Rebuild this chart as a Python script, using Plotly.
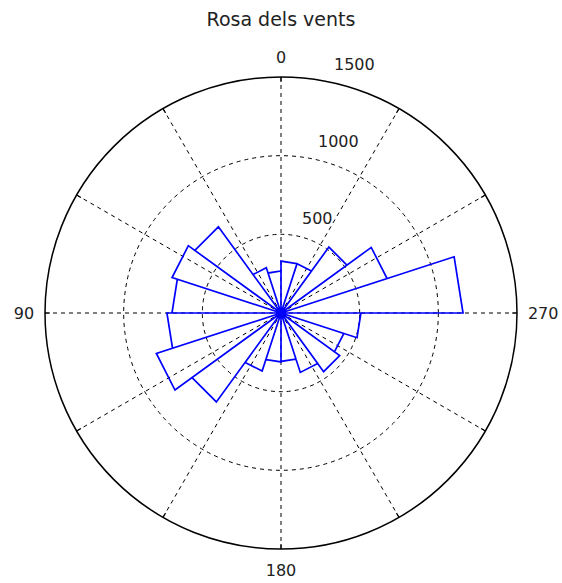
import math
import plotly.graph_objects as go

# Wind rose: counts per 18-degree direction bin (bin start angle, degrees)
bin_width = 18
bin_starts = list(range(0, 360, bin_width))
counts = [267, 302, 677, 728, 693, 725, 833, 699, 388, 311,
          308, 397, 461, 420, 508, 1157, 709, 518, 330, 330]

# Angular grid and labels
spoke_angles = list(range(0, 360, 30))
spoke_labels = [str(a) if a % 90 == 0 else "" for a in spoke_angles]

# Radial rings and their labels
ring_values = [500, 1000, 1500]
r_max = 1500

W, H = 562, 583
cx0, cx1 = 45, 517
cy0, cy1 = 77, 549
cx, cy = (cx0 + cx1) / 2, (cy0 + cy1) / 2
radius_px = (cx1 - cx0) / 2

# Build the rose outline: centre -> edge -> edge -> centre for every bin
rr, tt = [], []
for start, c in zip(bin_starts, counts):
    rr += [0, c, c, 0]
    tt += [start, start, start + bin_width, start + bin_width]

# Short solid tick marks on the inside of the outer circle at each spoke
tick_inner = r_max * (1 - 5 / radius_px)
tr, tth = [], []
for a in spoke_angles:
    tr += [tick_inner, r_max, None]
    tth += [a, a, None]

fig = go.Figure()
fig.add_trace(go.Scatterpolar(
    r=tr, theta=tth, mode="lines",
    line=dict(color="black", width=1.2),
    hoverinfo="skip", showlegend=False,
))
fig.add_trace(go.Scatterpolar(
    r=rr, theta=tt, mode="lines",
    line=dict(color="#0000ff", width=1.7),
    hoverinfo="skip", showlegend=False,
))

# Ring value labels just beyond each ring, near the top (compass-style angle)
label_pad = 110
label_theta = 348.5
phi = math.radians(90 + label_theta)
annotations = []
for v in ring_values:
    d = (v + label_pad) / r_max * radius_px
    px = cx + d * math.cos(phi)
    py = cy - d * math.sin(phi)
    annotations.append(dict(
        text=str(v), x=px / W, y=1 - py / H, xref="paper", yref="paper",
        xanchor="left", yanchor="middle", showarrow=False,
        font=dict(family="DejaVu Sans", size=16, color="#222222"),
    ))

fig.update_layout(
    width=W, height=H,
    margin=dict(l=0, r=0, t=0, b=0),
    paper_bgcolor="white",
    title=dict(text="Rosa dels vents", x=0.5, xref="paper", xanchor="center",
               y=1 - 19 / H, yref="paper", yanchor="middle",
               font=dict(family="DejaVu Sans", size=19, color="#222222")),
    annotations=annotations,
    polar=dict(
        domain=dict(x=[cx0 / W, cx1 / W], y=[1 - cy1 / H, 1 - cy0 / H]),
        bgcolor="white",
        angularaxis=dict(
            rotation=90, direction="counterclockwise",
            tickmode="array", tickvals=spoke_angles, ticktext=spoke_labels,
            showgrid=True, gridcolor="black", gridwidth=1, griddash="4px,4px",
            showline=True, linecolor="black", linewidth=1.5,
            ticks="outside", ticklen=7, tickcolor="rgba(0,0,0,0)",
            tickfont=dict(family="DejaVu Sans", size=16, color="#222222"),
        ),
        radialaxis=dict(
            range=[0, r_max],
            tickmode="array", tickvals=ring_values[:-1],
            showticklabels=False, ticks="",
            showgrid=True, gridcolor="black", gridwidth=1, griddash="4px,4px",
            showline=False,
        ),
    ),
)

fig.write_html("out.html")
